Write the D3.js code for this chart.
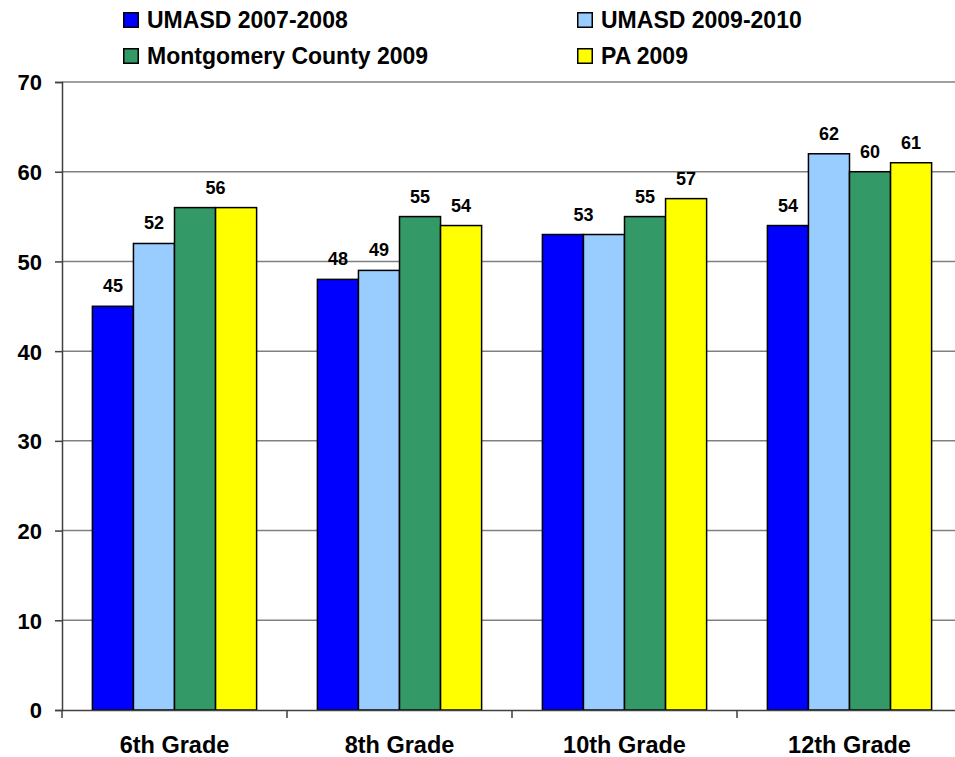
<!DOCTYPE html>
<html><head><meta charset="utf-8">
<script src="https://cdn.jsdelivr.net/npm/d3@7"></script>
<style>body{margin:0;background:#fff}svg{display:block;font-family:Arial,"Liberation Sans",sans-serif;font-weight:bold}</style>
</head><body><svg id="c" width="955" height="757"></svg>
<script>
const categories = ["6th Grade","8th Grade","10th Grade","12th Grade"];
const seriesNames = ["UMASD 2007-2008","UMASD 2009-2010","Montgomery County 2009","PA 2009"];
const umasd0708 = [45,48,53,54];
const umasd0910 = [52,49,53,62];
const montco2009 = [56,55,55,60];
const pa2009 = [56,54,57,61];
const yTicks = [0,10,20,30,40,50,60,70];
const colors = ["#0000ff","#99ccff","#339966","#ffff00"];
const seriesValues = [umasd0708, umasd0910, montco2009, pa2009];

const svg = d3.select("#c");
const L = 62, R = 962, T = 82, B = 710;
const x = d3.scaleBand().domain(categories).range([L, R]).paddingInner(0).paddingOuter(0);
const xs = d3.scaleBand().domain(d3.range(4)).range([0, x.bandwidth()]).paddingOuter(0.74).paddingInner(0);
const y = d3.scaleLinear().domain([0,70]).range([B, T]);
const FF = "Arial, 'Liberation Sans', sans-serif";

// gridlines
svg.append("g").selectAll("line").data(yTicks.filter(d=>d>0)).join("line")
  .attr("x1", L).attr("x2", R).attr("y1", d=>y(d)).attr("y2", d=>y(d))
  .attr("stroke", "#808080").attr("stroke-width", 1.5);

// bars
const g = svg.append("g");
categories.forEach((c, ci) => {
  seriesValues.forEach((vals, si) => {
    g.append("rect")
      .attr("x", x(c) + xs(si)).attr("y", y(vals[ci]))
      .attr("width", xs.bandwidth()).attr("height", y(0) - y(vals[ci]))
      .attr("fill", colors[si]).attr("stroke", "#000").attr("stroke-width", 1.5);
  });
  // labels: equal neighbouring values share one label centred between them
  for (let si = 0; si < seriesValues.length; si++) {
    const v = seriesValues[si][ci];
    let cx = x(c) + xs(si) + xs.bandwidth()/2;
    if (si + 1 < seriesValues.length && seriesValues[si+1][ci] === v) {
      cx += xs.bandwidth()/2;
      si++;
    }
    g.append("text").attr("x", cx).attr("y", y(v) - 14)
      .attr("text-anchor", "middle").attr("font-size", 18).text(v);
  }
});

// y axis
const ya = svg.append("g").attr("transform", `translate(${L},0)`)
  .call(d3.axisLeft(y).tickValues(yTicks).tickSize(7).tickPadding(13));
ya.select(".domain").attr("stroke", "#404040").attr("stroke-width", 1.5);
ya.selectAll(".tick line").attr("stroke", "#404040").attr("stroke-width", 1.5);
ya.selectAll("text").attr("font-size", 22).attr("font-weight", "bold").attr("fill", "#000")
  .attr("font-family", FF).attr("dy", "0.36em");

// x axis
const xa = svg.append("g").attr("transform", `translate(0,${B})`)
  .call(d3.axisBottom(x).tickSize(0).tickPadding(0));
xa.select(".domain").attr("stroke", "#404040").attr("stroke-width", 1.5);
xa.selectAll("text").attr("font-size", 23.5).attr("font-weight", "bold").attr("fill", "#000")
  .attr("font-family", FF).attr("dy", null).attr("y", 43);
xa.selectAll(".sep").data(categories.map(c=>x(c)).concat([R])).join("line")
  .attr("x1", d=>d).attr("x2", d=>d).attr("y1", 0).attr("y2", 8)
  .attr("stroke", "#404040").attr("stroke-width", 1.5);

// legend
const legPos = [[123,12],[577,12],[123,48],[577,48]];
seriesNames.forEach((n, i) => {
  const lg = svg.append("g").attr("transform", `translate(${legPos[i][0]},${legPos[i][1]})`);
  lg.append("rect").attr("x", 0.75).attr("y", 0.75).attr("width", 14.5).attr("height", 14.5)
    .attr("fill", colors[i]).attr("stroke", "#000").attr("stroke-width", 1.5);
  lg.append("text").attr("x", 24).attr("y", 15.5).attr("font-size", 23).text(n);
});
</script></body></html>
